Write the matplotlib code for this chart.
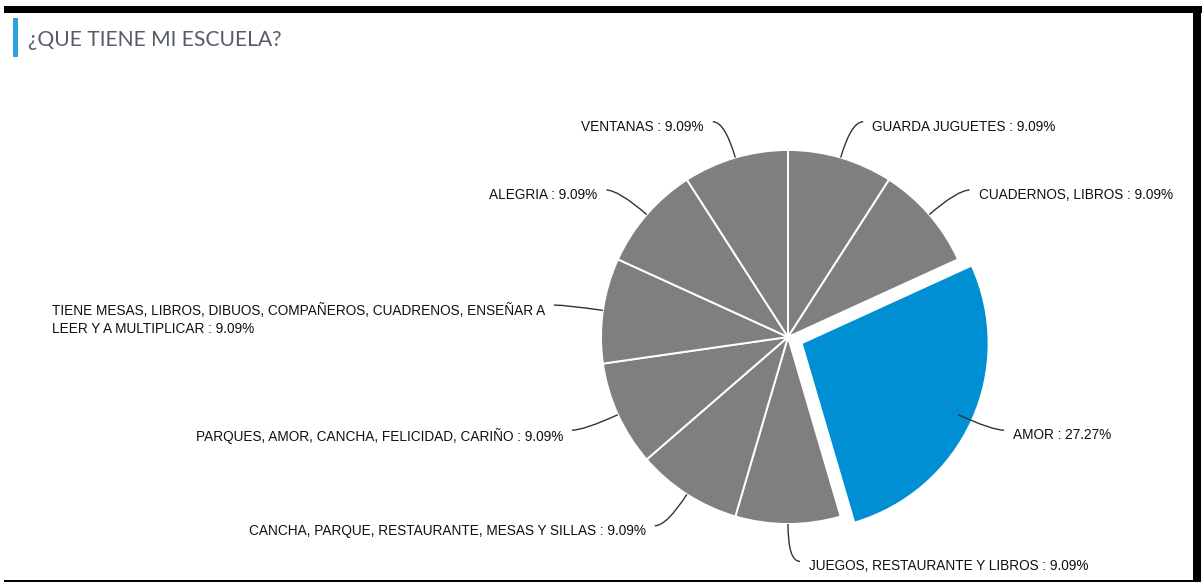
import textwrap
import numpy as np
import matplotlib
matplotlib.use("Agg")
import matplotlib.pyplot as plt
from matplotlib.path import Path
from matplotlib.patches import PathPatch, Rectangle

# ---- data -------------------------------------------------------------
categories = [
    "GUARDA JUGUETES",
    "CUADERNOS, LIBROS",
    "AMOR",
    "JUEGOS, RESTAURANTE Y LIBROS",
    "CANCHA, PARQUE, RESTAURANTE, MESAS Y SILLAS",
    "PARQUES, AMOR, CANCHA, FELICIDAD, CARIÑO",
    "TIENE MESAS, LIBROS, DIBUOS, COMPAÑEROS, CUADRENOS, ENSEÑAR A LEER Y A MULTIPLICAR",
    "ALEGRIA",
    "VENTANAS",
]
percentages = [9.09, 9.09, 27.27, 9.09, 9.09, 9.09, 9.09, 9.09, 9.09]
highlight = "AMOR"
title = "¿QUE TIENE MI ESCUELA?"

# ---- figure / canvas in pixel units ----------------------------------
W, H = 1202, 584
fig = plt.figure(figsize=(W / 100, H / 100), dpi=100)
ax = fig.add_axes([0, 0, 1, 1])

GREY = "#7f7f7f"
BLUE = "#008fd3"
cx, cy, R = 788, H - 337, 187

colors = [BLUE if c == highlight else GREY for c in categories]
# pie() takes the explode offset in data units, here pixels
explode = [0.08 * R if c == highlight else 0.0 for c in categories]

wedges, _ = ax.pie(
    percentages, colors=colors, explode=explode, startangle=90,
    counterclock=False, center=(cx, cy), radius=R, frame=True,
    wedgeprops=dict(edgecolor="white", linewidth=1.4),
)

# ---- labels with curved connectors -------------------------------------
for w, name, pct in zip(wedges, categories, percentages):
    mid = np.deg2rad((w.theta1 + w.theta2) / 2)
    c, s = np.cos(mid), np.sin(mid)
    side = 1 if c > -0.01 else -1
    p0 = (cx + R * c, cy + R * s)
    p1 = (cx + 1.2 * R * c, cy + 1.2 * R * s)
    p2 = (p1[0] + side * 12, p1[1])
    path = Path([p0, p1, p2], [Path.MOVETO, Path.CURVE3, Path.CURVE3])
    ax.add_patch(PathPatch(path, fc="none", ec="#333333", lw=1.0))
    text = "\n".join(textwrap.wrap(f"{name} : {pct:.2f}%", width=62))
    ax.text(p2[0] + side * 9, p2[1] + 2, text,
            ha="left" if side > 0 else "right", va="top",
            multialignment="left", fontsize=9.8, family="Liberation Sans",
            color="#111111", linespacing=1.35)

# ---- title and frame ----------------------------------------------------
ax.add_patch(Rectangle((13, H - 57), 5, 39, color="#29a3df", lw=0))
ax.text(28, H - 40, title, ha="left", va="center", fontsize=15.2,
        family="Lato", color="#555c68")

ax.add_patch(Rectangle((4, H - 13), W - 4, 7, color="black", lw=0))
ax.add_patch(Rectangle((1193, H - 582), 8, 572, color="black", lw=0))
ax.add_patch(Rectangle((4, H - 582), 1193, 2, color="black", lw=0))

ax.set_xlim(0, W)
ax.set_ylim(0, H)
ax.set_aspect("auto")
ax.axis("off")

fig.savefig("out.png", dpi=100, facecolor="white")
